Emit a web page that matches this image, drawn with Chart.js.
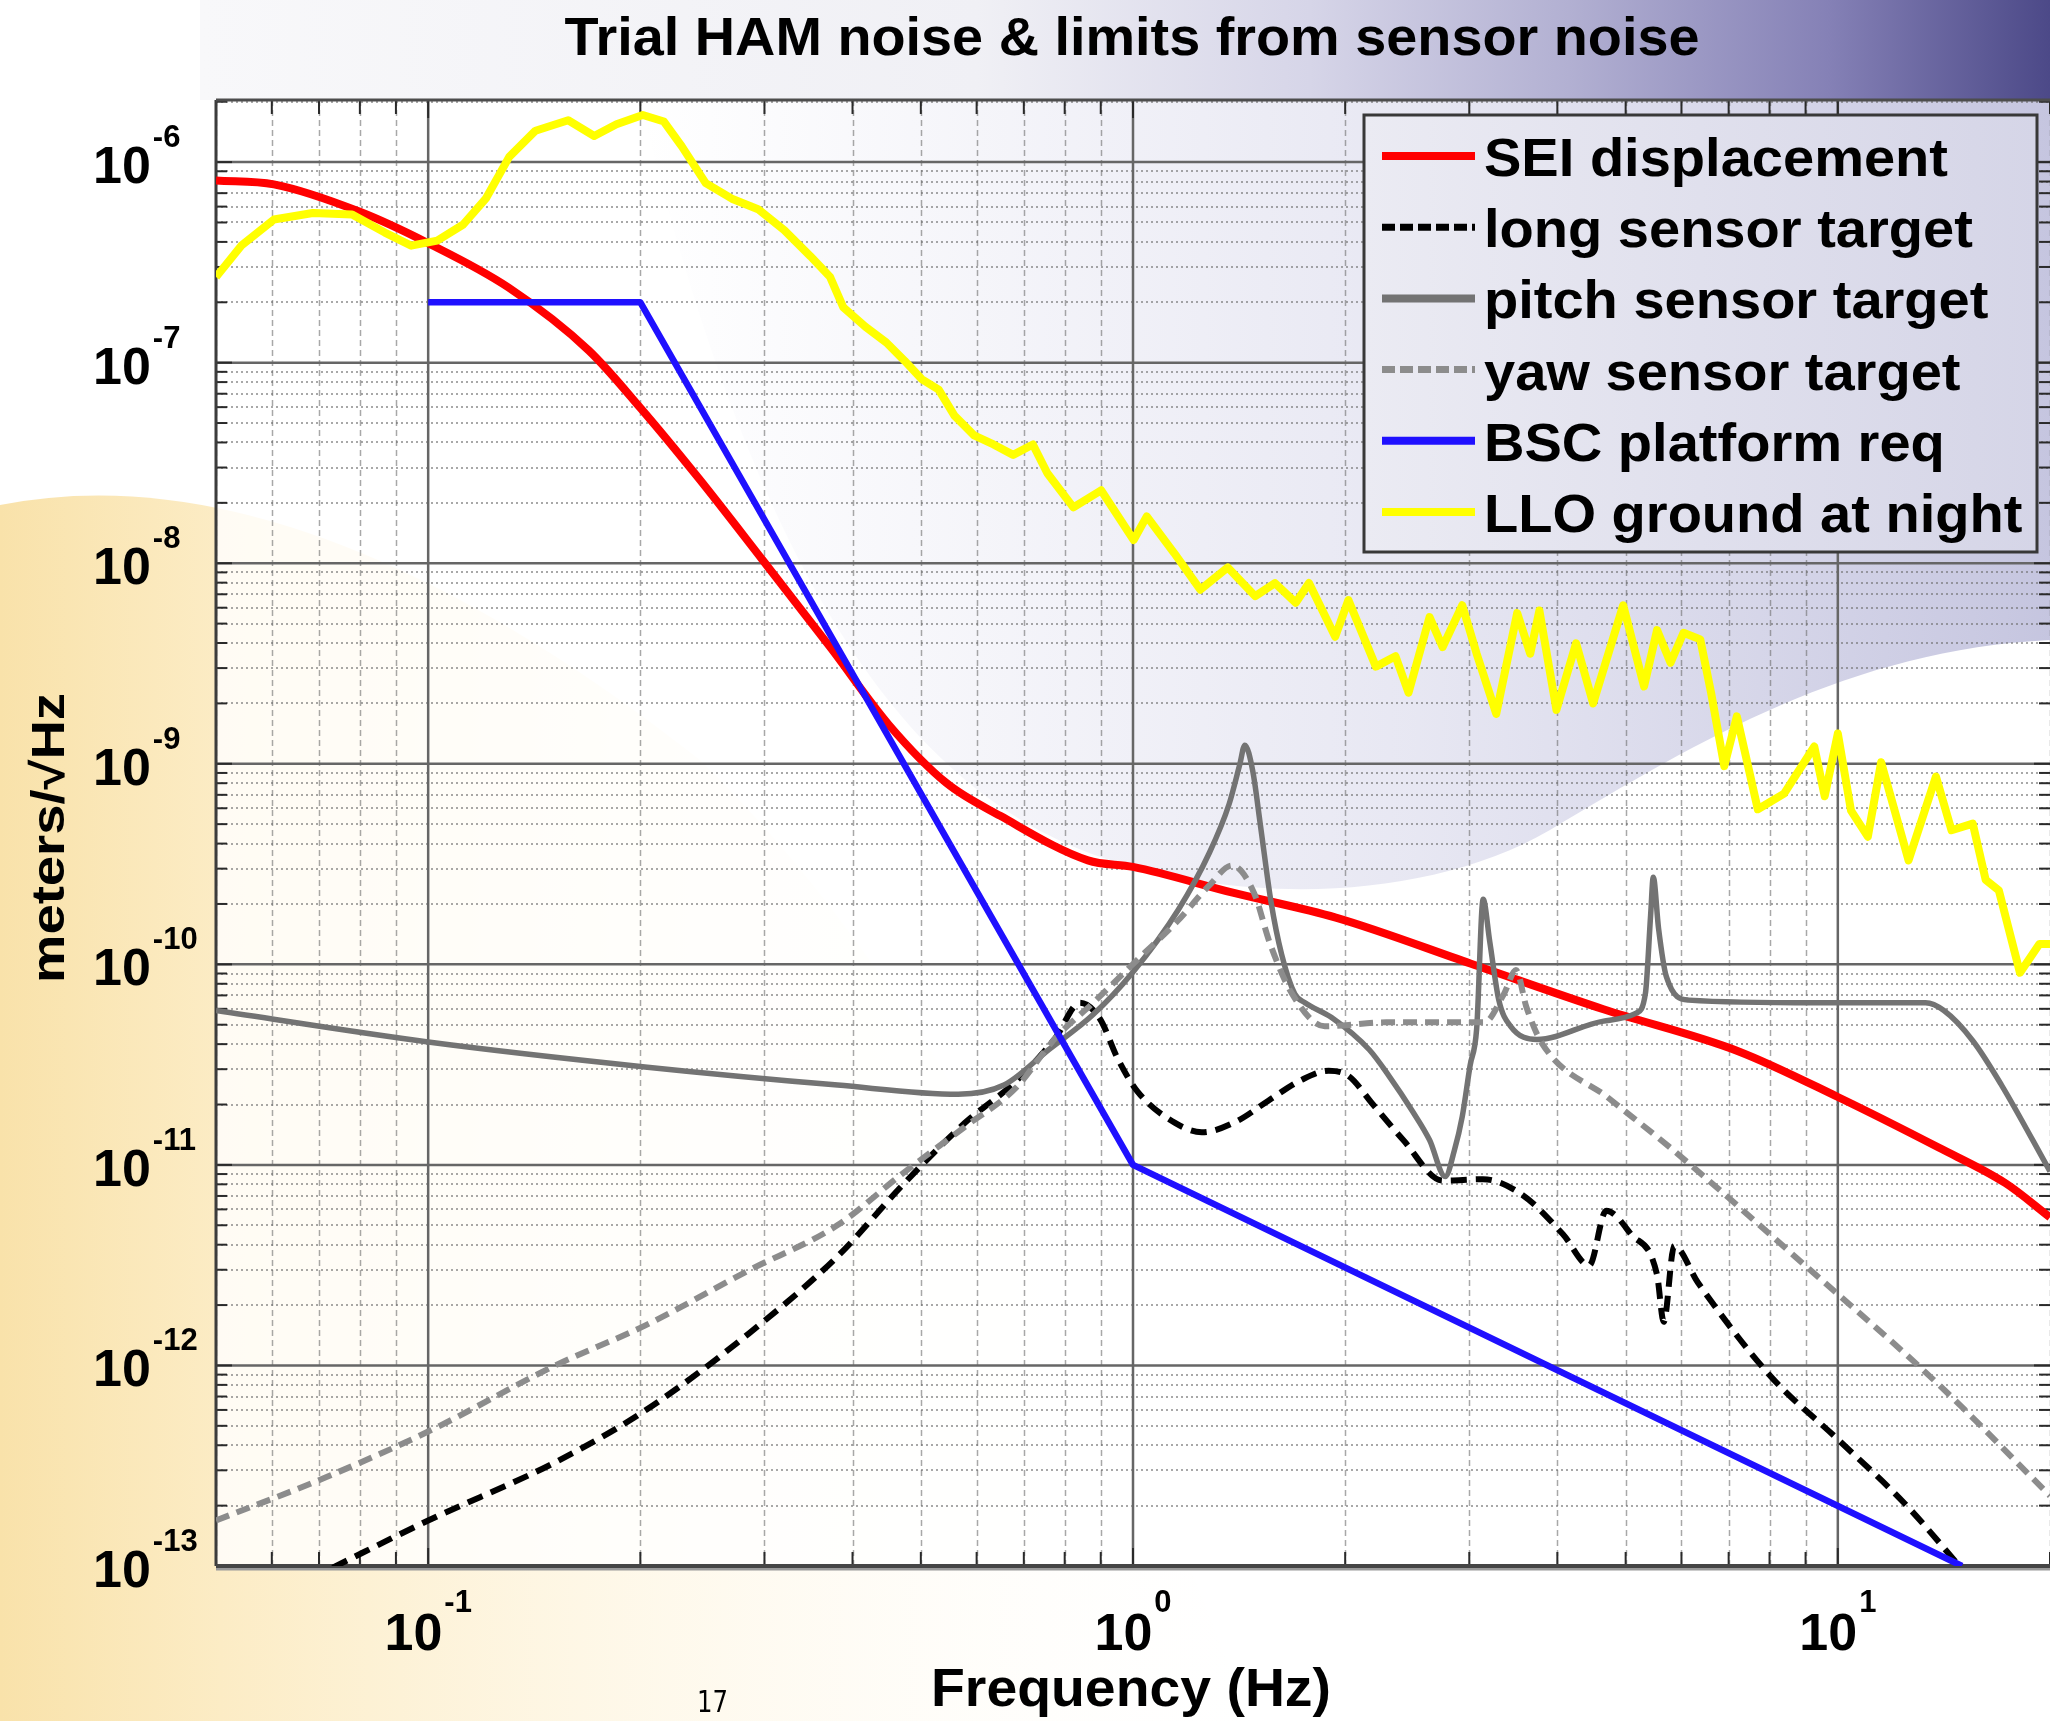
<!DOCTYPE html>
<html>
<head>
<meta charset="utf-8">
<title>Trial HAM noise &amp; limits from sensor noise</title>
<script src="https://cdn.jsdelivr.net/npm/chart.js@4.4.1/dist/chart.umd.min.js"></script>
<style>
  html, body { margin: 0; padding: 0; background: #fff; }
  canvas { display: block; }
</style>
</head>
<body>
<canvas id="noise-chart" width="2050" height="1721"></canvas>
<script>
// frequencies in Hz, amplitudes in meters/sqrt(Hz)
const seiFreq = [0.05, 0.0604, 0.08, 0.1, 0.13, 0.169, 0.2, 0.242, 0.298, 0.373, 0.45, 0.544, 0.648, 0.863, 1.0, 1.39, 1.94, 3.01, 4.65, 7.22, 10, 13.9, 17.3, 20];
const seiDisp = [8.1e-7, 7.74e-7, 5.65e-7, 3.94e-7, 2.37e-7, 1.15e-7, 5.95e-8, 2.65e-8, 1.04e-8, 3.76e-9, 1.57e-9, 8.0e-10, 5.5e-10, 3.3e-10, 3.06e-10, 2.27e-10, 1.71e-10, 1.01e-10, 5.97e-11, 3.69e-11, 2.18e-11, 1.22e-11, 8.1e-12, 5.48e-12];

const longFreq = [0.0732, 0.1, 0.152, 0.203, 0.285, 0.381, 0.47, 0.577, 0.682, 0.776, 0.841, 0.897, 0.952, 1.015, 1.149, 1.252, 1.399, 1.556, 1.733, 1.895, 2.021, 2.192, 2.418, 2.75, 3.139, 3.569, 4.074, 4.439, 4.692, 5.088, 5.54, 5.662, 5.86, 6.33, 8.04, 10, 12.44, 15.0];
const longTarget = [9.82e-14, 1.686e-13, 3.31e-13, 5.95e-13, 1.442e-12, 3.5e-12, 7.86e-12, 1.616e-11, 2.61e-11, 4.29e-11, 6.43e-11, 5.37e-11, 3.37e-11, 2.32e-11, 1.616e-11, 1.455e-11, 1.641e-11, 2.09e-11, 2.65e-11, 2.95e-11, 2.78e-11, 1.995e-11, 1.33e-11, 8.35e-12, 8.48e-12, 7.08e-12, 4.51e-12, 3.15e-12, 5.91e-12, 4.51e-12, 2.83e-12, 1.651e-12, 3.94e-12, 2.59e-12, 8.79e-13, 4.28e-13, 2.05e-13, 9.67e-14];

const pitchFreq = [0.05, 0.1, 0.203, 0.381, 0.565, 0.656, 0.759, 0.878, 0.998, 1.159, 1.284, 1.369, 1.417, 1.441, 1.479, 1.517, 1.57, 1.625, 1.696, 1.754, 1.911, 2.164, 2.307, 2.492, 2.635, 2.773, 2.857, 2.932, 3.008, 3.073, 3.139, 3.207, 3.304, 3.434, 3.741, 4.652, 5.176, 5.333, 5.425, 5.472, 5.567, 5.711, 6.142, 9.3, 13.32, 14.14, 15.54, 17.07, 20];
const pitchTarget = [5.88e-11, 4.10e-11, 3.08e-11, 2.50e-11, 2.25e-11, 2.50e-11, 3.75e-11, 5.62e-11, 9.08e-11, 1.867e-10, 3.61e-10, 6.30e-10, 9.88e-10, 1.238e-9, 9.17e-10, 4.88e-10, 2.04e-10, 1.121e-10, 7.14e-11, 6.43e-11, 5.45e-11, 3.75e-11, 2.78e-11, 1.851e-11, 1.33e-11, 8.74e-12, 1.179e-11, 1.742e-11, 3.13e-11, 4.76e-11, 2.11e-10, 1.302e-10, 6.63e-11, 4.91e-11, 4.22e-11, 5.21e-11, 5.71e-11, 7.14e-11, 1.758e-10, 2.72e-10, 1.513e-10, 8.68e-11, 6.63e-11, 6.43e-11, 6.43e-11, 5.88e-11, 4.16e-11, 2.50e-11, 9.28e-12];

const yawFreq = [0.05, 0.0716, 0.1, 0.152, 0.203, 0.284, 0.381, 0.47, 0.577, 0.682, 0.776, 0.878, 1.015, 1.154, 1.284, 1.381, 1.485, 1.563, 1.681, 1.871, 2.287, 3.152, 3.361, 3.494, 3.614, 3.804, 4.732, 5.79, 8.99, 13.9, 20];
const yawTarget = [1.686e-13, 2.77e-13, 4.68e-13, 1.006e-12, 1.579e-12, 2.96e-12, 5.01e-12, 9.0e-12, 1.545e-11, 2.42e-11, 4.29e-11, 6.43e-11, 1.056e-10, 1.631e-10, 2.48e-10, 3.11e-10, 2.27e-10, 1.282e-10, 7.14e-11, 4.91e-11, 5.14e-11, 5.14e-11, 7.14e-11, 9.36e-11, 6.15e-11, 4.04e-11, 2.15e-11, 1.215e-11, 3.15e-12, 8.03e-13, 2.24e-13];

const bscFreq = [0.1, 0.2, 1, 15];
const bscReq = [2e-7, 2e-7, 1e-11, 1e-13];

const lloFreq = [0.05, 0.0543, 0.0604, 0.0686, 0.078, 0.0868, 0.0946, 0.103, 0.112, 0.1207, 0.1303, 0.142, 0.158, 0.172, 0.185, 0.2016, 0.216, 0.229, 0.2476, 0.2697, 0.2938, 0.32, 0.3487, 0.3718, 0.388, 0.4172, 0.4467, 0.4742, 0.5013, 0.53, 0.558, 0.595, 0.634, 0.676, 0.721, 0.756, 0.823, 0.901, 1.002, 1.046, 1.144, 1.246, 1.363, 1.491, 1.59, 1.702, 1.777, 1.936, 2.021, 2.211, 2.357, 2.46, 2.635, 2.75, 2.932, 3.073, 3.276, 3.508, 3.661, 3.772, 3.988, 4.253, 4.496, 4.96, 5.31, 5.54, 5.79, 6.04, 6.38, 6.61, 6.9, 7.19, 7.7, 8.39, 9.26, 9.58, 10.0, 10.44, 11.03, 11.52, 12.6, 13.78, 14.5, 15.54, 16.21, 16.92, 18.13, 19.32, 20];
const lloGround = [2.67e-7, 3.83e-7, 5.17e-7, 5.57e-7, 5.48e-7, 4.45e-7, 3.83e-7, 4.06e-7, 4.87e-7, 6.57e-7, 1.062e-6, 1.434e-6, 1.617e-6, 1.35e-6, 1.545e-6, 1.717e-6, 1.593e-6, 1.197e-6, 7.86e-7, 6.57e-7, 5.82e-7, 4.58e-7, 3.39e-7, 2.67e-7, 1.89e-7, 1.51e-7, 1.26e-7, 1.021e-7, 8.28e-8, 7.34e-8, 5.44e-8, 4.34e-8, 3.91e-8, 3.47e-8, 3.91e-8, 2.81e-8, 1.90e-8, 2.31e-8, 1.306e-8, 1.712e-8, 1.124e-8, 7.38e-9, 9.53e-9, 6.85e-9, 7.96e-9, 6.35e-9, 7.96e-9, 4.30e-9, 6.55e-9, 3.05e-9, 3.44e-9, 2.26e-9, 5.39e-9, 3.82e-9, 6.17e-9, 3.54e-9, 1.774e-9, 5.64e-9, 3.54e-9, 5.81e-9, 1.856e-9, 3.99e-9, 2.00e-9, 6.17e-9, 2.43e-9, 4.64e-9, 3.19e-9, 4.50e-9, 4.17e-9, 2.26e-9, 9.73e-10, 1.722e-9, 5.93e-10, 7.10e-10, 1.219e-9, 6.89e-10, 1.416e-9, 5.84e-10, 4.33e-10, 1.018e-9, 3.30e-10, 8.63e-10, 4.66e-10, 5.03e-10, 2.64e-10, 2.34e-10, 9.08e-11, 1.264e-10, 1.264e-10];

// axis limits and decade tick labels (10^n)
const freqRange = [0.05, 20];
const ampRange = [1e-13, 2.04e-6];
const xTickExponents = [-1, 0, 1];
const yTickExponents = [-6, -7, -8, -9, -10, -11, -12, -13];

const FONT = '"Liberation Sans", Arial, Helvetica, sans-serif';

const toPoints = (fs, vs) => fs.map((f, i) => ({ x: f, y: vs[i] }));

// draw text, optionally squeezed/stretched horizontally to a given width
function drawText(ctx, str, x, y, size, opts = {}) {
  ctx.save();
  ctx.font = `${opts.weight || 'bold'} ${size}px ${opts.family || FONT}`;
  const w = ctx.measureText(str).width;
  const sx = opts.width ? opts.width / w : (opts.sx || 1);
  ctx.translate(x, y);
  if (opts.rotate) ctx.rotate(opts.rotate);
  ctx.scale(sx, 1);
  ctx.textAlign = opts.align || 'left';
  ctx.textBaseline = 'alphabetic';
  ctx.fillStyle = opts.color || '#000';
  ctx.fillText(str, 0, 0);
  ctx.restore();
  return w * sx;
}

function measure(ctx, str, size) {
  ctx.save();
  ctx.font = `bold ${size}px ${FONT}`;
  const w = ctx.measureText(str).width;
  ctx.restore();
  return w;
}

// slide background: header band, cream corner, lavender swoosh
const slideBackground = {
  id: 'slideBackground',
  beforeDraw(chart) {
    const { ctx, width, height, chartArea: a } = chart;
    ctx.save();
    ctx.fillStyle = '#ffffff';
    ctx.fillRect(0, 0, width, height);

    let g = ctx.createLinearGradient(200, 0, width, 0);
    g.addColorStop(0, '#f8f8fa');
    g.addColorStop(0.42, '#f0f0f5');
    g.addColorStop(0.6, '#d6d5e8');
    g.addColorStop(0.74, '#b2b0d2');
    g.addColorStop(0.88, '#8581b6');
    g.addColorStop(1, '#4c4988');
    ctx.fillStyle = g;
    ctx.fillRect(200, 0, width - 200, a.top);

    g = ctx.createLinearGradient(0, 0, 1300, 0);
    g.addColorStop(0, '#f9e2aa');
    g.addColorStop(0.17, '#fcecc5');
    g.addColorStop(0.5, 'rgba(254,246,226,0.7)');
    g.addColorStop(1, 'rgba(255,255,255,0)');
    ctx.fillStyle = g;
    ctx.beginPath();
    ctx.moveTo(0, 505);
    ctx.quadraticCurveTo(300, 445, 700, 760);
    ctx.quadraticCurveTo(1000, 1050, 1250, height);
    ctx.lineTo(0, height);
    ctx.closePath();
    ctx.fill();

    ctx.fillStyle = 'rgba(255,255,255,0.8)';
    ctx.fillRect(a.left, a.top, a.right - a.left, a.bottom - a.top);

    g = ctx.createLinearGradient(640, 0, width, 0);
    g.addColorStop(0, 'rgba(170,170,210,0)');
    g.addColorStop(0.3, 'rgba(165,165,208,0.14)');
    g.addColorStop(0.55, 'rgba(160,160,205,0.25)');
    g.addColorStop(1, 'rgba(140,140,192,0.5)');
    ctx.fillStyle = g;
    ctx.beginPath();
    ctx.moveTo(640, a.top);
    ctx.lineTo(width, a.top);
    ctx.lineTo(width, 640);
    ctx.bezierCurveTo(1850, 650, 1700, 740, 1550, 830);
    ctx.bezierCurveTo(1430, 900, 1250, 905, 1110, 860);
    ctx.bezierCurveTo(920, 800, 760, 600, 640, a.top);
    ctx.closePath();
    ctx.fill();
    ctx.restore();
  }
};

// matlab-style log grid, frame and ticks
const logGrid = {
  id: 'logGrid',
  beforeDatasetsDraw(chart) {
    const { ctx, chartArea: a, scales: { x, y } } = chart;
    const xVals = [], yVals = [];
    for (let e = -2; e <= 1; e++) for (let m = 1; m <= 9; m++) {
      const v = m * Math.pow(10, e);
      if (v >= freqRange[0] && v <= freqRange[1]) xVals.push([v, m === 1]);
    }
    for (let e = -13; e <= -6; e++) for (let m = 1; m <= 9; m++) {
      const v = m * Math.pow(10, e);
      if (v >= ampRange[0] && v <= ampRange[1]) yVals.push([v, m === 1]);
    }
    const line = (x1, y1, x2, y2) => { ctx.beginPath(); ctx.moveTo(x1, y1); ctx.lineTo(x2, y2); ctx.stroke(); };

    ctx.save();
    ctx.beginPath();
    ctx.rect(a.left, a.top, a.right - a.left, a.bottom - a.top);
    ctx.clip();

    ctx.lineWidth = 1.5;
    ctx.strokeStyle = 'rgba(110,110,110,0.6)';
    ctx.setLineDash([6, 4]);
    xVals.filter(d => !d[1]).forEach(([v]) => {
      const px = Math.round(x.getPixelForValue(v)) + 0.5;
      line(px, a.top, px, a.bottom);
    });
    ctx.lineWidth = 2;
    ctx.setLineDash([2, 3]);
    yVals.filter(d => !d[1]).forEach(([v]) => {
      const py = Math.round(y.getPixelForValue(v));
      line(a.left, py, a.right, py);
    });

    ctx.setLineDash([]);
    ctx.strokeStyle = '#666666';
    ctx.lineWidth = 2.5;
    xVals.filter(d => d[1]).forEach(([v]) => {
      const px = x.getPixelForValue(v);
      line(px, a.top, px, a.bottom);
    });
    yVals.filter(d => d[1]).forEach(([v]) => {
      const py = y.getPixelForValue(v);
      line(a.left, py, a.right, py);
    });

    // tick marks on all four sides
    ctx.strokeStyle = '#2a2a2a';
    ctx.lineWidth = 2;
    yVals.forEach(([v, major]) => {
      const py = y.getPixelForValue(v);
      const len = major ? 16 : 11;
      line(a.left, py, a.left + len, py);
      line(a.right, py, a.right - len, py);
    });
    xVals.forEach(([v, major]) => {
      const px = x.getPixelForValue(v);
      const len = major ? 18 : 14;
      line(px, a.top, px, a.top + len);
      line(px, a.bottom, px, a.bottom - len);
    });
    ctx.restore();

    ctx.save();
    ctx.strokeStyle = '#3c3c3c';
    ctx.lineWidth = 3;
    line(a.left, a.top, a.left, a.bottom);
    ctx.strokeStyle = '#4d4d4d';
    line(a.left, a.top, a.right, a.top);
    ctx.strokeStyle = '#9a9a9a';
    ctx.lineWidth = 3;
    line(a.left, a.bottom + 3, a.right, a.bottom + 3);
    ctx.strokeStyle = '#454545';
    ctx.lineWidth = 4;
    line(a.left, a.bottom, a.right, a.bottom);
    ctx.restore();
  }
};

// boxed legend in the upper right of the plot
const boxLegend = {
  id: 'boxLegend',
  afterDatasetsDraw(chart) {
    const { ctx } = chart;
    const bx = 1364, by = 115, bw = 673, bh = 437;
    ctx.save();
    const g = ctx.createLinearGradient(bx, 0, bx + bw, 0);
    g.addColorStop(0, '#ebebf3');
    g.addColorStop(1, '#d5d5e7');
    ctx.fillStyle = g;
    ctx.fillRect(bx, by, bw, bh);
    ctx.strokeStyle = '#383838';
    ctx.lineWidth = 3;
    ctx.strokeRect(bx, by, bw, bh);

    const sx = 464 / measure(ctx, chart.data.datasets[0].label, 53);
    chart.data.datasets.forEach((ds, i) => {
      const ry = by + 41 + i * 71.2;
      ctx.save();
      ctx.strokeStyle = ds.borderColor;
      ctx.lineWidth = ds.borderDash ? 7 : 8;
      ctx.setLineDash(ds.borderDash ? [13, 5] : []);
      ctx.beginPath();
      ctx.moveTo(1382, ry);
      ctx.lineTo(1475, ry);
      ctx.stroke();
      ctx.restore();
      drawText(ctx, ds.label, 1484, ry + 20, 53, { sx });
    });
    ctx.restore();
  }
};

// title, axis titles and 10^n tick labels
const slideText = {
  id: 'slideText',
  afterDraw(chart) {
    const { ctx, scales: { x, y } } = chart;
    drawText(ctx, 'Trial HAM noise & limits from sensor noise', 1132, 55, 54, { align: 'center', width: 1135 });
    drawText(ctx, 'Frequency (Hz)', 1131, 1706, 54, { align: 'center', width: 400 });
    drawText(ctx, 'meters/\u221AHz', 64, 838, 46, { align: 'center', width: 290, rotate: -Math.PI / 2 });
    drawText(ctx, '17', 697, 1712, 30, { weight: 'normal', family: '"DejaVu Sans", sans-serif', width: 31 });

    const w10 = measure(ctx, '10', 52);
    yTickExponents.forEach(n => {
      const py = y.getPixelForValue(Math.pow(10, n));
      drawText(ctx, '10', 93, py + 21, 52);
      drawText(ctx, String(n), 93 + w10 + 2, py - 15, 31);
    });
    xTickExponents.forEach(n => {
      const px = x.getPixelForValue(Math.pow(10, n));
      const we = measure(ctx, String(n), 31);
      const start = px - (w10 + 2 + we) / 2;
      drawText(ctx, '10', start, 1650, 52);
      drawText(ctx, String(n), start + w10 + 2, 1612, 31);
    });
  }
};

const ctxNoise = document.getElementById('noise-chart').getContext('2d');

new Chart(ctxNoise, {
  type: 'line',
  data: {
    datasets: [
      {
        label: 'SEI displacement',
        data: toPoints(seiFreq, seiDisp),
        borderColor: '#ff0000',
        borderWidth: 8,
        cubicInterpolationMode: 'monotone',
        order: 6
      },
      {
        label: 'long sensor target',
        data: toPoints(longFreq, longTarget),
        borderColor: '#000000',
        borderWidth: 6,
        borderDash: [16, 9],
        cubicInterpolationMode: 'monotone',
        order: 5
      },
      {
        label: 'pitch sensor target',
        data: toPoints(pitchFreq, pitchTarget),
        borderColor: '#737373',
        borderWidth: 5.5,
        cubicInterpolationMode: 'monotone',
        order: 4
      },
      {
        label: 'yaw sensor target',
        data: toPoints(yawFreq, yawTarget),
        borderColor: '#8c8c8c',
        borderWidth: 6,
        borderDash: [14, 8],
        cubicInterpolationMode: 'monotone',
        order: 3
      },
      {
        label: 'BSC platform req',
        data: toPoints(bscFreq, bscReq),
        borderColor: '#1f10ff',
        borderWidth: 6.5,
        order: 2
      },
      {
        label: 'LLO ground at night',
        data: toPoints(lloFreq, lloGround),
        borderColor: '#ffff00',
        borderWidth: 8,
        order: 1
      }
    ]
  },
  options: {
    responsive: false,
    animation: false,
    devicePixelRatio: 1,
    layout: { padding: { left: 216, top: 100, right: 0, bottom: 155 } },
    elements: {
      point: { radius: 0 },
      line: { tension: 0, fill: false, borderJoinStyle: 'round' }
    },
    plugins: {
      legend: { display: false },
      tooltip: { enabled: false },
      title: { display: false }
    },
    scales: {
      x: { type: 'logarithmic', min: freqRange[0], max: freqRange[1], display: false },
      y: { type: 'logarithmic', min: ampRange[0], max: ampRange[1], display: false }
    }
  },
  plugins: [slideBackground, logGrid, boxLegend, slideText]
});
</script>
</body>
</html>
